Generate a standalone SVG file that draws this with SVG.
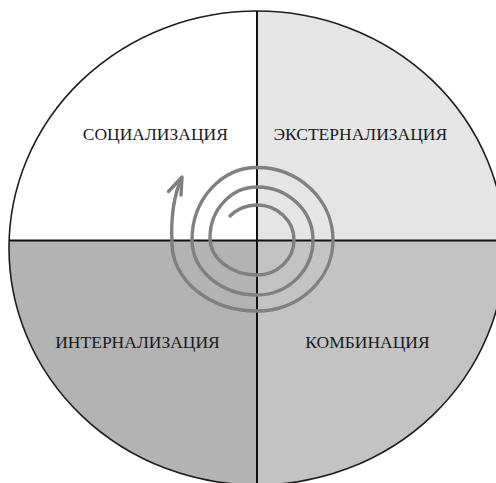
<svg xmlns="http://www.w3.org/2000/svg" width="496" height="483" viewBox="0 0 496 483">
  <style>
    .lbl { font-family: "Liberation Serif", "Times New Roman", serif; font-size: 17.5px; fill: #1a1a1a; text-anchor: middle; }
    .spiral { fill: none; stroke: #808080; stroke-width: 3.4; stroke-linecap: round; stroke-linejoin: round; }
    .axis { stroke: #111; stroke-width: 2; }
  </style>
  <defs>
    <clipPath id="disc">
      <ellipse cx="257" cy="248" rx="248" ry="237"/>
    </clipPath>
  </defs>
  <rect width="496" height="483" fill="#fff"/>
  <g clip-path="url(#disc)">
    <g id="socialization">
      <rect x="0" y="0" width="257" height="240.5" fill="#ffffff"/>
    </g>
    <g id="externalization">
      <rect x="257" y="0" width="260" height="240.5" fill="#e5e5e5"/>
    </g>
    <g id="internalization">
      <rect x="0" y="240.5" width="257" height="260" fill="#b3b3b3"/>
    </g>
    <g id="combination">
      <rect x="257" y="240.5" width="260" height="260" fill="#c3c3c3"/>
    </g>
  </g>
  <ellipse cx="257" cy="248" rx="248" ry="237" fill="none" stroke="#1e1e1e" stroke-width="1.6"/>
  <line class="axis" x1="257" y1="11" x2="257" y2="483"/>
  <line class="axis" x1="9" y1="240.5" x2="496" y2="240.5" stroke="#333"/>
  <text class="lbl" x="155.3" y="140">СОЦИАЛИЗАЦИЯ</text>
  <text class="lbl" x="360.3" y="140">ЭКСТЕРНАЛИЗАЦИЯ</text>
  <text class="lbl" x="137.5" y="348">ИНТЕРНАЛИЗАЦИЯ</text>
  <text class="lbl" x="367.5" y="348">КОМБИНАЦИЯ</text>
  <g id="connectors">
    <path class="spiral" d="M 230 216 A 37 35 0 0 1 257 205 A 37 35 0 0 1 294 240 A 37 35 0 0 1 257 275 A 47 37 0 0 1 210 238 A 47 51 0 0 1 257 187 A 56 53 0 0 1 313 240 A 56 55 0 0 1 257 295 A 65 55 0 0 1 192 240 A 65 72.5 0 0 1 257 167.5 A 76 72.5 0 0 1 333 240 A 76 71 0 0 1 257 311 A 85 68 0 0 1 172 243 Q 170 205 181.5 178"/>
    <path class="spiral" d="M 168.5 191.5 L 182 177 L 181 195"/>
  </g>
</svg>
